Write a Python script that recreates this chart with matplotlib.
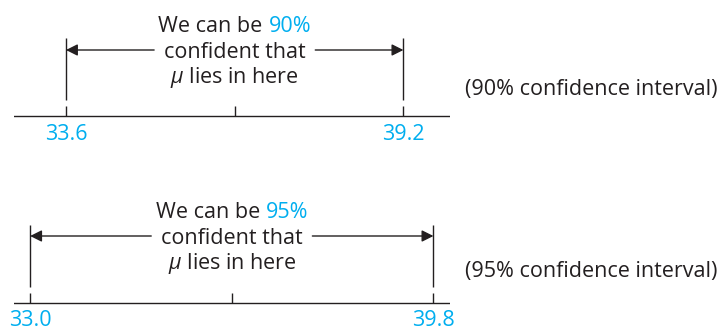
import matplotlib
matplotlib.use("Agg")
import matplotlib.pyplot as plt
from matplotlib.transforms import Bbox

# ---- data ----
levels = ["90%", "95%"]
lower = [33.6, 33.0]
upper = [39.2, 39.8]
lower_labels = ["33.6", "33.0"]
upper_labels = ["39.2", "39.8"]
side_labels = ["(90% confidence interval)", "(95% confidence interval)"]

DARK = "#231f20"
CYAN = "#00aeef"
FONT = "Open Sans"
FS = 15.5

plt.rcParams["font.family"] = [FONT, "DejaVu Sans"]
plt.rcParams["mathtext.fontset"] = "custom"
plt.rcParams["mathtext.it"] = "Open Sans:italic"
plt.rcParams["mathtext.rm"] = "Open Sans"

W, H = 722, 330
fig = plt.figure(figsize=(W / 100, H / 100), dpi=100)

# layout (pixels within each panel)
panels = [
    dict(top=0, axis=116, br_top=38, br_bot=100, tick_top=106, arrow=50,
         lines=(26, 52, 77), label=135, side=90, padl=0.154, padr=0.138),
    dict(top=165, axis=138, br_top=60, br_bot=122, tick_top=128, arrow=71,
         lines=(47, 73, 99), label=156, side=107, padl=0.040, padr=0.041),
]

x_left_px, x_right_px = 14, 450
ph = 165
pairs = []
for i, p in enumerate(panels):
    ax = fig.add_axes([x_left_px / W, 1 - (p["top"] + ph) / H,
                       (x_right_px - x_left_px) / W, ph / H])
    lo, hi = lower[i], upper[i]
    span = hi - lo
    ax.set_xlim(lo - p["padl"] * span, hi + p["padr"] * span)
    ax.set_ylim(ph, 0)
    ax.axis("off")
    mid = (lo + hi) / 2

    # number line
    ax.axhline(p["axis"], color=DARK, lw=1.0)
    for xv in (lo, mid, hi):
        ax.plot([xv, xv], [p["tick_top"], p["axis"]], color=DARK, lw=1.0,
                solid_capstyle="butt")
    # brackets
    for xv in (lo, hi):
        ax.plot([xv, xv], [p["br_top"], p["br_bot"]], color=DARK, lw=1.0,
                solid_capstyle="butt")
    # arrows
    for xv in (lo, hi):
        ax.annotate("", xy=(xv, p["arrow"]), xytext=(mid, p["arrow"]),
                    arrowprops=dict(arrowstyle="-|>,head_length=0.7,head_width=0.35",
                                    color=DARK, lw=1.0, shrinkA=58, shrinkB=0,
                                    mutation_scale=10))
    # text
    t1 = ax.text(mid, p["lines"][0], "We can be", ha="left", va="center",
                 color=DARK, fontsize=FS)
    t2 = ax.annotate(levels[i], xy=(1, 0), xycoords=t1, xytext=(4.2, 0),
                     textcoords="offset points", ha="left", va="bottom",
                     color=CYAN, fontsize=FS)
    pairs.append((ax, t1, t2, mid, p["lines"][0]))
    ax.text(mid, p["lines"][1], "confident that", ha="center", va="center",
            color=DARK, fontsize=FS)
    ax.text(mid, p["lines"][2], r"$\mu$ lies in here", ha="center", va="center",
            color=DARK, fontsize=FS)
    # tick labels
    ax.text(lo, p["label"], lower_labels[i], ha="center", va="center",
            color=CYAN, fontsize=FS, clip_on=False)
    ax.text(hi, p["label"], upper_labels[i], ha="center", va="center",
            color=CYAN, fontsize=FS, clip_on=False)
    # side label
    fig.text(465 / W, 1 - (p["top"] + p["side"]) / H, side_labels[i],
             ha="left", va="center", color=DARK, fontsize=FS)

# center the two-colour first line
fig.canvas.draw()
r = fig.canvas.get_renderer()
for ax, t1, t2, mid, y in pairs:
    bb = Bbox.union([t1.get_window_extent(r), t2.get_window_extent(r)])
    cx = (bb.x0 + bb.x1) / 2
    target = ax.transData.transform((mid, y))[0]
    dx = target - cx
    x0_disp = t1.get_window_extent(r).x0 + dx
    newx = ax.transData.inverted().transform((x0_disp, 0))[0]
    t1.set_x(newx)

fig.savefig("out.png", dpi=100)
